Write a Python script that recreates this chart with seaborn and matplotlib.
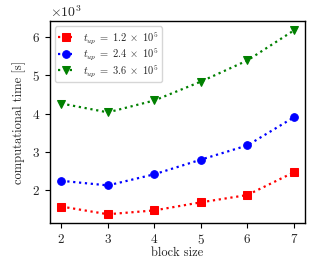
import matplotlib
matplotlib.use("Agg")
import matplotlib.pyplot as plt
import seaborn as sns
import pandas as pd

# --- data --- #
block_size = [2, 3, 4, 5, 6, 7]
time_12 = [1580, 1380, 1480, 1690, 1880, 2470]
time_24 = [2250, 2130, 2420, 2800, 3170, 3900]
time_36 = [4260, 4030, 4340, 4830, 5380, 6160]

labels = [r"$t_{up}\;=\;1.2\;\times\;10^5$",
          r"$t_{up}\;=\;2.4\;\times\;10^5$",
          r"$t_{up}\;=\;3.6\;\times\;10^5$"]
colors = ["red", "blue", "green"]
markers = ["s", "o", "v"]

sns.set_style("ticks")
plt.rcParams["font.family"] = ["cmr10", "DejaVu Serif"]
plt.rcParams["mathtext.fontset"] = "cm"
plt.rcParams["axes.formatter.use_mathtext"] = True

fig, ax = plt.subplots(figsize=(3.32, 2.66), dpi=100)

for vals, lab, col, mk in zip([time_12, time_24, time_36], labels, colors, markers):
    df = pd.DataFrame({"block size": block_size, "time": vals})
    sns.lineplot(data=df, x="block size", y="time", ax=ax, color=col,
                 marker=mk, markersize=5.5, markeredgecolor=col,
                 linestyle=":", linewidth=1.6, label=lab)

ax.set_xlabel("block size", fontsize=9, labelpad=0)
ax.set_ylabel("computational time [s]", fontsize=9)
ax.set_xticks(block_size)
ax.ticklabel_format(axis="y", style="sci", scilimits=(3, 3))
ax.tick_params(labelsize=9.5, direction="out", length=3.5, width=0.8, color="black")
for sp in ax.spines.values():
    sp.set_color("black")
    sp.set_linewidth(1.0)
ax.yaxis.get_offset_text().set_fontsize(10)

leg = ax.legend(loc="upper left", fontsize=7.5, frameon=True, fancybox=True,
                handlelength=1.6, borderpad=0.3, labelspacing=0.05, markerscale=1.0)
leg.get_frame().set_edgecolor("#cccccc")

fig.subplots_adjust(left=0.15, right=0.92, top=0.92, bottom=0.16)
fig.savefig("out.png", dpi=100)
